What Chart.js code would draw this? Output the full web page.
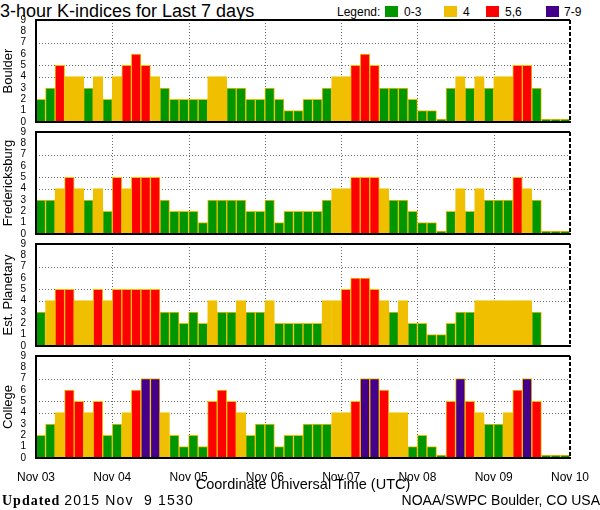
<!DOCTYPE html>
<html lang="en">
<head>
<meta charset="UTF-8">
<title>3-hour K-indices for Last 7 days</title>
<script src="https://cdn.jsdelivr.net/npm/chart.js"></script>
<style>
  body { margin: 0; background: #fff; font-family: "Liberation Sans", Arial, sans-serif; color: #000; }
  #page { position: relative; width: 600px; height: 510px; overflow: hidden; }
  .panel { position: absolute; left: 0; }
  #title { position: absolute; left: 0; top: 2px; font-size: 18px; line-height: 18px; white-space: pre; }
  .lg { position: absolute; top: 5px; font-size: 12px; line-height: 14px; }
  .box { position: absolute; top: 6px; width: 13px; height: 11px; }
  #updated { position: absolute; left: 2px; top: 492px; font-size: 14px; line-height: 16px; white-space: pre; }
  #updated b { font-family: "Liberation Serif", serif; letter-spacing: 1px; }
  #updated span { letter-spacing: 1.2px; }
  #credit { position: absolute; right: 0; top: 492px; font-size: 14px; line-height: 16px; }
</style>
</head>
<body>
<div id="page">
  <div id="title">3-hour K-indices for Last 7 days</div>
  <div class="lg" style="left:337px">Legend:</div>
  <div class="box" style="left:385px;background:#009600"></div>
  <div class="lg" style="left:404px">0-3</div>
  <div class="box" style="left:444px;background:#f0c000"></div>
  <div class="lg" style="left:463px">4</div>
  <div class="box" style="left:486px;background:#ff0000"></div>
  <div class="lg" style="left:505px">5,6</div>
  <div class="box" style="left:546px;background:#44008a"></div>
  <div class="lg" style="left:564px">7-9</div>

  <canvas id="c0" class="panel" width="600" height="122" style="top:10px"></canvas>
  <canvas id="c1" class="panel" width="600" height="122" style="top:122px"></canvas>
  <canvas id="c2" class="panel" width="600" height="122" style="top:234px"></canvas>
  <canvas id="c3" class="panel" width="600" height="148" style="top:346px"></canvas>

  <div id="updated"><b>Updated</b> <span>2015 Nov  9 1530</span></div>
  <div id="credit">NOAA/SWPC Boulder, CO USA</div>
</div>

<script>
// day labels at the vertical grid lines
var dayLabels = ['Nov 03', 'Nov 04', 'Nov 05', 'Nov 06', 'Nov 07', 'Nov 08', 'Nov 09', 'Nov 10'];
var stations = ['Boulder', 'Fredericksburg', 'Est. Planetary', 'College'];
// K levels that get a dotted guide line
var guideLevels = [4, 5, 7];

// 8 three-hour values per day, Nov 03 .. Nov 09
var boulder = [2,3,5,4,4,3,4,2, 4,5,6,5,4,3,2,2, 2,2,4,4,3,3,2,2, 3,2,1,1,2,2,3,4,
               4,5,6,5,3,3,3,2, 1,1,0,3,4,3,4,3, 4,4,5,5,3,0,0,0];
var fredericksburg = [3,3,4,5,4,3,4,2, 5,4,5,5,5,3,2,2, 2,1,3,3,3,3,2,2, 3,1,2,2,2,2,3,4,
                      4,5,5,5,4,3,3,2, 1,1,0,2,4,2,4,3, 3,3,5,4,3,0,0,0];
var planetary = [3,4,5,5,4,4,5,4, 5,5,5,5,5,3,3,2, 3,2,4,3,3,4,3,3, 4,2,2,2,2,2,4,4,
                 5,6,6,5,4,3,4,2, 2,1,1,2,3,3,4,4, 4,4,4,4,3,null,null,null];
var college = [2,3,4,6,5,4,5,2, 3,4,6,7,7,4,2,1, 2,1,5,6,5,4,2,3, 3,1,2,2,3,3,3,4,
               4,5,7,7,6,4,4,1, 2,1,0,5,7,5,4,3, 3,4,6,7,5,0,0,0];

var series = [boulder, fredericksburg, planetary, college];

function kColor(v) {
    if (v === null) return 'rgba(0,0,0,0)';
    if (v <= 3) return '#009600';
    if (v === 4) return '#f0c000';
    if (v <= 6) return '#ff0000';
    return '#44008a';
}

// dotted guide lines: K levels and day boundaries
var dotGridPlugin = {
    id: 'dotGrid',
    beforeDatasetsDraw: function (chart) {
        var ctx = chart.ctx, a = chart.chartArea;
        var xs = chart.scales.x, ys = chart.scales.y;
        ctx.save();
        ctx.strokeStyle = '#707070';
        ctx.lineWidth = 1;
        ctx.setLineDash([1, 2]);
        ctx.beginPath();
        guideLevels.forEach(function (v) {
            var py = Math.round(ys.getPixelForValue(v)) + 0.5;
            ctx.moveTo(a.left, py);
            ctx.lineTo(a.right, py);
        });
        for (var d = 1; d < dayLabels.length - 1; d++) {
            var px = Math.round(xs.getPixelForValue(d * 8)) + 0.5;
            ctx.moveTo(px, a.top);
            ctx.lineTo(px, a.bottom);
        }
        ctx.stroke();
        ctx.restore();
    }
};

// top edge solid, right edge dashed
var framePlugin = {
    id: 'frame',
    afterDatasetsDraw: function (chart) {
        var ctx = chart.ctx, a = chart.chartArea;
        ctx.save();
        ctx.strokeStyle = '#000';
        ctx.lineWidth = 2;
        ctx.beginPath();
        ctx.moveTo(a.left, a.top);
        ctx.lineTo(a.right, a.top);
        ctx.stroke();
        ctx.setLineDash([4, 2]);
        ctx.beginPath();
        ctx.moveTo(a.right, a.top);
        ctx.lineTo(a.right, a.bottom);
        ctx.stroke();
        ctx.restore();
    }
};

function makePanel(idx) {
    var values = series[idx];
    var last = idx === 3;
    var ctx = document.getElementById('c' + idx).getContext('2d');
    return new Chart(ctx, {
        type: 'bar',
        data: {
            datasets: [{
                data: values.map(function (v, i) { return { x: i + 0.5, y: v }; }),
                backgroundColor: values.map(kColor),
                borderColor: '#f0c000',
                borderWidth: 1,
                minBarLength: 3,
                barPercentage: 1,
                categoryPercentage: 1
            }]
        },
        options: {
            responsive: false,
            animation: false,
            layout: { padding: { top: 10, right: 30, left: 0, bottom: 0 } },
            plugins: { legend: { display: false }, tooltip: { enabled: false } },
            scales: {
                x: {
                    type: 'linear',
                    min: 0,
                    max: 56,
                    offset: false,
                    afterFit: function (s) { s.height = last ? 36 : 10; },
                    ticks: {
                        display: last,
                        stepSize: 8,
                        autoSkip: false,
                        maxRotation: 0,
                        padding: 4,
                        color: '#000',
                        font: { family: 'Liberation Sans', size: 12 },
                        callback: function (v) { return dayLabels[v / 8]; }
                    },
                    grid: { display: false, offset: false },
                    border: { color: '#000', width: 2, z: 1 },
                    title: {
                        display: last,
                        text: 'Coordinate Universal Time (UTC)',
                        color: '#000',
                        padding: 0,
                        font: { family: 'Liberation Sans', size: 14.5 }
                    }
                },
                y: {
                    min: 0,
                    max: 9,
                    afterFit: function (s) { s.width = 36; },
                    ticks: {
                        stepSize: 1,
                        autoSkip: false,
                        padding: 2,
                        color: '#000',
                        font: { family: 'Liberation Sans', size: 10 }
                    },
                    grid: { display: false },
                    border: { color: '#000', width: 2, z: 1 },
                    title: {
                        display: true,
                        text: stations[idx],
                        color: '#000',
                        padding: { top: 1, bottom: 0 },
                        font: { family: 'Liberation Sans', size: 13 }
                    }
                }
            }
        },
        plugins: [dotGridPlugin, framePlugin]
    });
}

for (var i = 0; i < 4; i++) makePanel(i);
</script>
</body>
</html>
